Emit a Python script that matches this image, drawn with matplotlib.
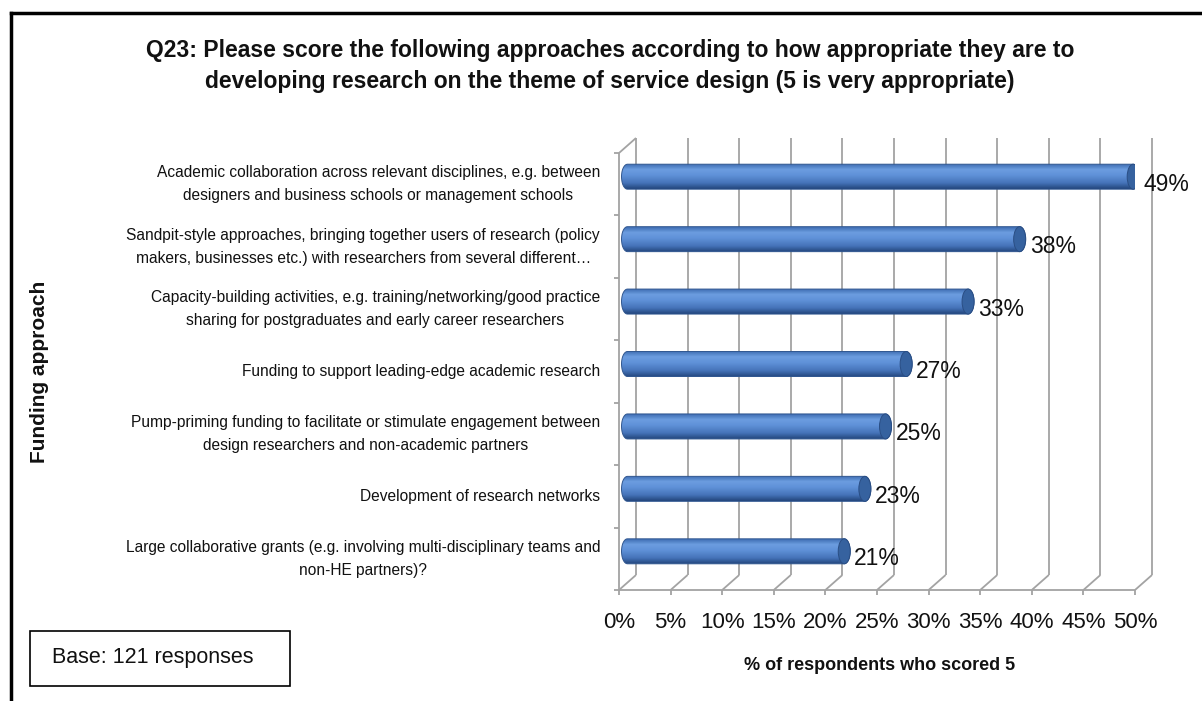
import numpy as np
import matplotlib
matplotlib.use("Agg")
import matplotlib.pyplot as plt
from matplotlib.patches import PathPatch, Ellipse, Rectangle
from matplotlib.path import Path
from matplotlib.lines import Line2D
from matplotlib.colors import LinearSegmentedColormap

plt.rcParams['font.family'] = ['Liberation Sans', 'DejaVu Sans']

# ---- data -------------------------------------------------------------
categories = [
    "Academic collaboration across relevant disciplines, e.g. between\n"
    "designers and business schools or management schools",
    "Sandpit-style approaches, bringing together users of research (policy\n"
    "makers, businesses etc.) with researchers from several different\u2026",
    "Capacity-building activities, e.g. training/networking/good practice\n"
    "sharing for postgraduates and early career researchers",
    "Funding to support leading-edge academic research",
    "Pump-priming funding to facilitate or stimulate engagement between\n"
    "design researchers and non-academic partners",
    "Development of research networks",
    "Large collaborative grants (e.g. involving multi-disciplinary teams and\n"
    "non-HE partners)?",
]
values = [49, 38, 33, 27, 25, 23, 21]
x_ticks = [0, 5, 10, 15, 20, 25, 30, 35, 40, 45, 50]
x_tick_labels = [f"{t}%" for t in x_ticks]

title = ("Q23: Please score the following approaches according to how appropriate they are to\n"
         "developing research on the theme of service design (5 is very appropriate)")
x_title = "% of respondents who scored 5"
y_title = "Funding approach"
base_note = "Base: 121 responses"

# ---- figure / plotting plane -----------------------------------------
W, H = 1202, 701
fig = plt.figure(figsize=(W / 100, H / 100), dpi=100)

left_px, right_px, top_px, bottom_px = 619, 1135, 153, 590
ax = fig.add_axes([left_px / W, 1 - bottom_px / H,
                   (right_px - left_px) / W, (bottom_px - top_px) / H])
n = len(categories)
xmax = x_ticks[-1]
ax.set_xlim(0, xmax)
ax.set_ylim(0, n)
ax.axis('off')

sx = (right_px - left_px) / xmax      # pixels per percent
sy = (bottom_px - top_px) / n         # pixels per category band
dx = 17 / sx                          # depth offset (x)
dy = 15 / sy                          # depth offset (y)

grid_c = '#A3A3A3'
lw = 1.3
line_kw = dict(color=grid_c, lw=lw, clip_on=False, zorder=1, solid_capstyle='butt')

for t in x_ticks:
    ax.plot([t + dx, t + dx], [dy, n + dy], **line_kw)      # back wall grid
    ax.plot([t, t + dx], [0, dy], **line_kw)                # floor edge
    ax.plot([t, t], [0, -5 / sy], **line_kw)                # tick mark
ax.plot([0, xmax], [0, 0], **line_kw)                        # floor front edge
ax.plot([0, 0], [0, n], **line_kw)                           # side wall front edge
ax.plot([0, dx], [n, n + dy], **line_kw)                     # side wall top edge
for k in range(n + 1):
    ax.plot([-5 / sx, 0], [k, k], **line_kw)

for t, lab in zip(x_ticks, x_tick_labels):
    ax.text(t, -32 / sy, lab, ha='center', va='center', fontsize=16,
            color='#111111', clip_on=False)

# ---- cylinder bars ----------------------------------------------------
body_cmap = LinearSegmentedColormap.from_list(
    'cyl', [(0.0, '#3E6DB2'), (0.22, '#6C9DE0'), (0.45, '#5F91D8'),
            (0.75, '#4674BA'), (1.0, '#22457B')])
grad = np.linspace(0, 1, 256).reshape(-1, 1)

half_h = 12.5 / sy
rx = 6 / sx
for i, v in enumerate(values):
    yc = (n - 1 - i) + 0.5 + dy / 2
    x0 = dx / 2
    x1 = v + dx / 2
    tr = np.linspace(np.pi / 2, -np.pi / 2, 40)
    tl = np.linspace(-np.pi / 2, -3 * np.pi / 2, 40)
    right = np.column_stack([x1 + rx * np.cos(tr), yc + half_h * np.sin(tr)])
    leftp = np.column_stack([x0 + rx * np.cos(tl), yc + half_h * np.sin(tl)])
    verts = np.vstack([right, leftp, right[:1]])
    path = Path(verts, closed=True)
    patch = PathPatch(path, fc='none', ec='#2F5690', lw=0.7, zorder=4)
    ax.add_patch(patch)
    im = ax.imshow(grad, cmap=body_cmap, aspect='auto', origin='upper',
                   extent=(x0 - rx, x1 + rx, yc - half_h, yc + half_h),
                   zorder=3, interpolation='bilinear')
    im.set_clip_path(patch)
    cap = Ellipse((x1, yc), 2 * rx, 2 * half_h, fc='#36629F', ec='#2A4E84',
                  lw=0.7, zorder=5)
    ax.add_patch(cap)
    ax.text(x1 + rx + 4 / sx, (n - 1 - i) + 0.5, f"{v}%", ha='left',
            va='center', fontsize=16.5, color='#111111', zorder=6, clip_on=False)

ax.set_xlim(0, xmax)
ax.set_ylim(0, n)

# ---- category labels --------------------------------------------------
for i, lab in enumerate(categories):
    ax.text(-19 / sx, (n - 1 - i) + 0.5, lab, ha='right', va='center',
            multialignment='center', fontsize=11.2, linespacing=1.65,
            color='#111111', clip_on=False)

# ---- titles and frame -------------------------------------------------
fig.text(610 / W, 1 - 66 / H, title, ha='center', va='center', fontsize=16.5,
         fontweight='bold', linespacing=1.4, color='#111111')
fig.text(880 / W, 1 - 665 / H, x_title, ha='center', va='center',
         fontsize=13, fontweight='bold', color='#111111')
fig.text(40 / W, 1 - 372 / H, y_title, ha='center', va='center',
         rotation=90, fontsize=15, fontweight='bold', color='#111111')

fig.patches.append(Rectangle((30 / W, 1 - 686 / H), 260 / W, 55 / H,
                             transform=fig.transFigure, fill=False,
                             ec='black', lw=1.2))
fig.text(52 / W, 1 - 658 / H, base_note, ha='left', va='center',
         fontsize=15.5, color='#111111')

fig.lines.append(Line2D([11 / W, 1], [1 - 13 / H, 1 - 13 / H],
                        transform=fig.transFigure, color='black', lw=2.5))
fig.lines.append(Line2D([11 / W, 11 / W], [1 - 13 / H, 0],
                        transform=fig.transFigure, color='black', lw=2.5))

fig.savefig('out.png', dpi=100)
